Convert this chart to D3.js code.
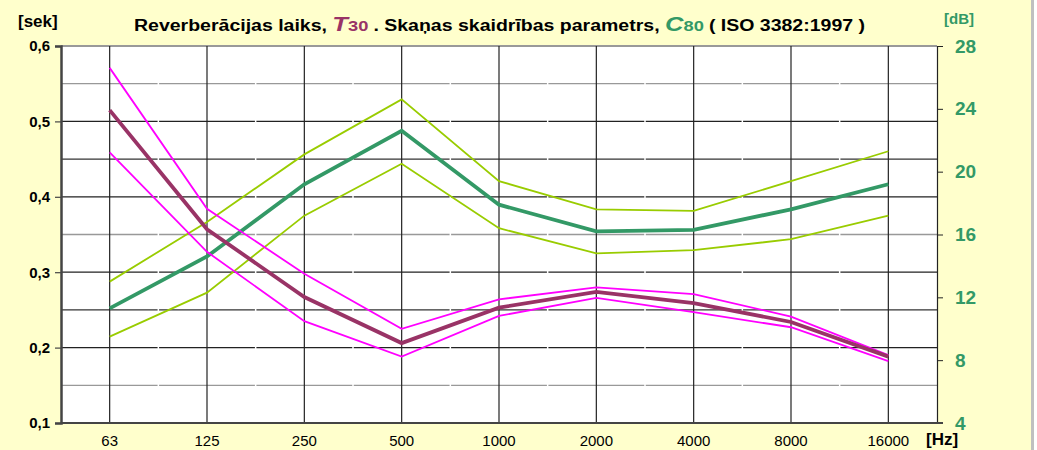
<!DOCTYPE html>
<html>
<head>
<meta charset="utf-8">
<script src="https://cdn.jsdelivr.net/npm/d3@7"></script>
<style>
  body { margin: 0; background: #fff; }
  svg { display: block; font-family: Arial, "Liberation Sans", sans-serif; }
</style>
</head>
<body>
<div id="chart"></div>
<script>
// frequency bands
const freqs = ["63", "125", "250", "500", "1000", "2000", "4000", "8000", "16000"];

// T30 reverberation time [sek] (left axis)
const t30 = [0.515, 0.357, 0.267, 0.206, 0.253, 0.274, 0.259, 0.234, 0.188];
const t30Upper = [0.571, 0.384, 0.298, 0.225, 0.264, 0.280, 0.271, 0.241, 0.190];
const t30Lower = [0.459, 0.327, 0.235, 0.188, 0.242, 0.266, 0.247, 0.227, 0.182];

// C80 clarity [dB] (right axis)
const c80 = [11.3, 14.6, 19.2, 22.6, 17.9, 16.2, 16.3, 17.6, 19.2];
const c80Upper = [13.0, 16.8, 21.1, 24.6, 19.4, 17.6, 17.5, 19.4, 21.3];
const c80Lower = [9.5, 12.3, 17.2, 20.5, 16.4, 14.8, 15.0, 15.7, 17.2];

const leftTicks = [0.1, 0.2, 0.3, 0.4, 0.5, 0.6];
const leftMinor = [0.15, 0.25, 0.35, 0.45, 0.55];
const rightTicks = [4, 8, 12, 16, 20, 24, 28];

const width = 1037, height = 450;
const plot = { left: 61, right: 937, top: 46, bottom: 423 };

const svg = d3.select("#chart").append("svg")
  .attr("width", width)
  .attr("height", height);

// background + right frame strip
svg.append("rect").attr("width", width).attr("height", height).attr("fill", "#ffffcc");
svg.append("rect").attr("x", 1031).attr("y", 0).attr("width", 3).attr("height", height).attr("fill", "#c0c0c0");
svg.append("rect").attr("x", 1034).attr("y", 0).attr("width", 3).attr("height", height).attr("fill", "#fff");

const x = d3.scaleBand().domain(freqs).range([plot.left, plot.right]);
const xc = d => x(d) + x.bandwidth() / 2;
const yL = d3.scaleLinear().domain([0.1, 0.6]).range([plot.bottom, plot.top]);
const yR = d3.scaleLinear().domain([4, 28]).range([plot.bottom, plot.top]);

svg.append("rect")
  .attr("x", plot.left).attr("y", plot.top)
  .attr("width", plot.right - plot.left).attr("height", plot.bottom - plot.top)
  .attr("fill", "#fff");

// horizontal grid
svg.append("g").selectAll("line").data(leftMinor).join("line")
  .attr("x1", plot.left).attr("x2", plot.right)
  .attr("y1", d => yL(d)).attr("y2", d => yL(d))
  .attr("stroke", d => (d === 0.45 || d === 0.25) ? "#333" : "#999")
  .attr("stroke-width", 1.3);
svg.append("g").selectAll("line").data(leftTicks.slice(1)).join("line")
  .attr("x1", plot.left).attr("x2", plot.right)
  .attr("y1", d => yL(d)).attr("y2", d => yL(d))
  .attr("stroke", d => d === 0.6 ? "#999" : "#222")
  .attr("stroke-width", d => d === 0.6 ? 2 : 1.2);

// white gaps between bands
svg.append("g").selectAll("line").data(freqs.slice(1)).join("line")
  .attr("x1", d => x(d)).attr("x2", d => x(d))
  .attr("y1", plot.top + 1).attr("y2", plot.bottom)
  .attr("stroke", "#fff").attr("stroke-width", 1.5);

// vertical grid at each band
svg.append("g").selectAll("line").data(freqs).join("line")
  .attr("x1", d => xc(d)).attr("x2", d => xc(d))
  .attr("y1", plot.top).attr("y2", plot.bottom)
  .attr("stroke", "#222").attr("stroke-width", 1.2);

// axes
const leftAxis = svg.append("g")
  .attr("transform", `translate(${plot.left},0)`)
  .call(d3.axisLeft(yL).tickValues(leftTicks).tickSize(6).tickPadding(5)
    .tickFormat(d => d3.format(".1f")(d).replace(".", ",")));
leftAxis.select(".domain").attr("stroke", "#444").attr("stroke-width", 2.5);
leftAxis.selectAll(".tick line").attr("stroke", "#444").attr("stroke-width", 1.2);
leftAxis.selectAll("text").attr("font-size", 15).attr("font-weight", "bold").attr("fill", "#000");

const rightAxis = svg.append("g")
  .attr("transform", `translate(${plot.right},0)`)
  .call(d3.axisRight(yR).tickValues(rightTicks).tickSize(6).tickPadding(12));
rightAxis.select(".domain").attr("stroke", "#222").attr("stroke-width", 1.2);
rightAxis.selectAll(".tick line").attr("stroke", "#222");
rightAxis.selectAll("text").attr("font-size", 19).attr("font-weight", "bold").attr("fill", "#339966");

svg.append("line")
  .attr("x1", plot.left).attr("x2", plot.right + 6)
  .attr("y1", plot.bottom).attr("y2", plot.bottom)
  .attr("stroke", "#444").attr("stroke-width", 2);

// x labels along the bottom edge
svg.append("g").selectAll("text").data(freqs).join("text")
  .attr("x", d => xc(d)).attr("y", 446)
  .attr("text-anchor", "middle")
  .attr("font-size", 15)
  .text(d => d);

svg.append("text").attr("x", 926).attr("y", 445)
  .attr("font-size", 17).attr("font-weight", "bold").text("[Hz]");

svg.append("text").attr("x", 18).attr("y", 27)
  .attr("font-size", 17).attr("font-weight", "bold").text("[sek]");

svg.append("text").attr("x", 944).attr("y", 24)
  .attr("font-size", 15).attr("font-weight", "bold").attr("fill", "#339966").text("[dB]");

// title (stretched wide like the original)
const title = svg.append("text").attr("x", 134).attr("y", 31)
  .attr("font-size", 16).attr("font-weight", "bold")
  .attr("textLength", 731).attr("lengthAdjust", "spacingAndGlyphs");
title.append("tspan").text("Reverberācijas laiks, ");
title.append("tspan").attr("fill", "#993366").attr("font-style", "italic")
  .attr("font-size", 21).text("T");
title.append("tspan").attr("fill", "#993366").attr("font-size", 15).text("30 ");
title.append("tspan").text(". Skaņas skaidrības parametrs, ");
title.append("tspan").attr("fill", "#339966").attr("font-style", "italic")
  .attr("font-size", 21).text("C");
title.append("tspan").attr("fill", "#339966").attr("font-size", 15).text("80 ");
title.append("tspan").text("( ISO 3382:1997 )");

// lines
const lineL = d3.line().x((d, i) => xc(freqs[i])).y(d => yL(d));
const lineR = d3.line().x((d, i) => xc(freqs[i])).y(d => yR(d));

const series = [
  { data: c80Upper, line: lineR, color: "#99cc00", w: 1.8 },
  { data: c80Lower, line: lineR, color: "#99cc00", w: 1.8 },
  { data: c80, line: lineR, color: "#339966", w: 3.8 },
  { data: t30Upper, line: lineL, color: "#ff00ff", w: 1.8 },
  { data: t30Lower, line: lineL, color: "#ff00ff", w: 1.8 },
  { data: t30, line: lineL, color: "#993366", w: 3.8 }
];

svg.append("g").selectAll("path").data(series).join("path")
  .attr("d", s => s.line(s.data))
  .attr("fill", "none")
  .attr("stroke", s => s.color)
  .attr("stroke-width", s => s.w)
  .attr("stroke-linejoin", "miter");
</script>
</body>
</html>
